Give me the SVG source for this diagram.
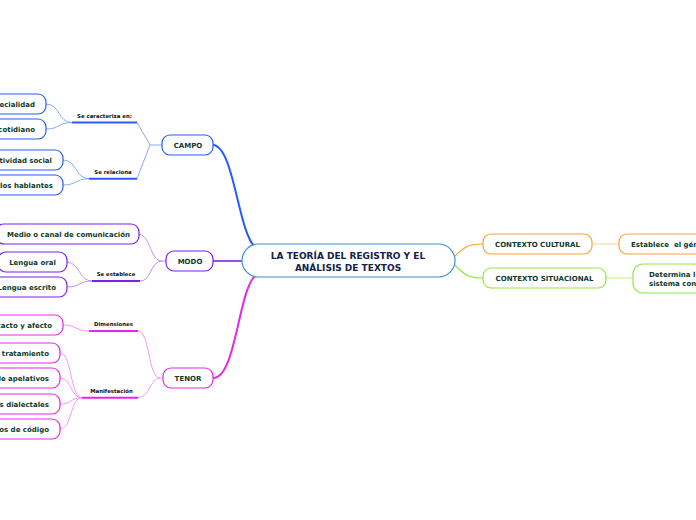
<svg xmlns="http://www.w3.org/2000/svg" width="696" height="520" viewBox="0 0 696 520">
<style>
.t{font-family:"DejaVu Sans",Verdana,sans-serif;font-weight:bold;font-size:7px;fill:#0d3a2c}
.c{font-family:"DejaVu Sans",Verdana,sans-serif;font-weight:bold;font-size:9px;fill:#14224a;text-anchor:middle}
.l{font-family:"DejaVu Sans",Verdana,sans-serif;font-weight:bold;font-size:5.4px;fill:#111}
.n{fill:#fff;stroke-width:1.2}
.b{stroke:#2a5cf5}.p{stroke:#7b22e6}.m{stroke:#e02ae8}.o{stroke:#f5a33a}.g{stroke:#93e840}
.cn path{fill:none}
</style>
<rect width="696" height="520" fill="#fff"/>
<g id="connectors" class="cn">
<path d="M213,145 C234,146 238,232 255,247" stroke="#2a5cf5" stroke-width="2"/>
<path d="M213,261 L242,261" stroke="#7b22e6" stroke-width="1.6"/>
<path d="M213,378 C236,378 238,292 255,276" stroke="#e02ae8" stroke-width="2"/>
<path d="M455,256 C465,246 470,244 483,244" stroke="#f5a33a" stroke-width="1.2"/>
<path d="M455,265 C465,276 470,278 483,278" stroke="#93e840" stroke-width="1.2"/>
<path d="M592,244 L619,244" stroke="#fbcf90" stroke-width="1"/>
<path d="M606,278 L633,278" stroke="#c6f29a" stroke-width="1.2"/>
<g stroke="#8aaaff" stroke-width="1">
<path d="M162,145 L150,145 L137,122.5 M150,145 L137,178.7"/>
<path d="M46,104 C60,104 58,122.5 72,122.5 M46,129 C60,129 58,122.5 72,122.5"/>
<path d="M63,160 C77,160 75,178.7 89,178.7 M63,185 C77,185 75,178.7 89,178.7"/>
</g>
<g stroke="#2a5cf5" stroke-width="2"><path d="M72,122.5 L137,122.5 M89,178.7 L137,178.7"/></g>
<g stroke="#b894f5" stroke-width="1">
<path d="M166,261 L162,261 M139,234 C151,236 150,261 162,261 M140,281 C152,281 150,261 162,261"/>
<path d="M67,262 C80,263 79,281 92,281 M67,287 C80,287 79,281 92,281"/>
</g>
<g stroke="#7b22e6" stroke-width="2"><path d="M92,281 L140,281"/></g>
<g stroke="#f59af5" stroke-width="1">
<path d="M163,378 L160,378 M138,331 C150,331 148,378 160,378 M138,397.7 C150,397.7 150,378 160,378"/>
<path d="M63,325 C76,325 76,331 89,331"/>
<path d="M60,353 C72,353 70,397.7 82,397.7 M60,378 C72,378 70,397.7 82,397.7 M60,404 C72,404 70,397.7 82,397.7 M60,429 C72,429 70,397.7 82,397.7"/>
</g>
<g stroke="#e02ae8" stroke-width="2"><path d="M89,331 L138,331 M82,397.7 L138,397.7"/></g>
</g>
<g id="central"><rect x="242" y="244" width="213" height="33" rx="16.5" class="n" stroke="#3c8fd6"/><text class="c" x="348" y="259">LA TEORÍA DEL REGISTRO Y EL</text><text class="c" x="348" y="271">ANÁLISIS DE TEXTOS</text></g>
<g id="campo"><rect x="162" y="135" width="51" height="20" rx="8" class="n b"/><text class="t" x="188" y="147.5" text-anchor="middle">CAMPO</text></g>
<g id="modo"><rect x="166" y="251" width="47" height="20" rx="8" class="n p"/><text class="t" x="190" y="263.5" text-anchor="middle">MODO</text></g>
<g id="tenor"><rect x="163" y="368" width="50" height="20" rx="8" class="n m"/><text class="t" x="188" y="380.5" text-anchor="middle">TENOR</text></g>
<g id="lbl-caracteriza"><text class="l" x="104.5" y="118" text-anchor="middle">Se caracteriza en:</text></g>
<g id="lbl-relaciona"><text class="l" x="113" y="174" text-anchor="middle">Se relaciona</text></g>
<g id="lbl-establece"><text class="l" x="116" y="276" text-anchor="middle">Se establece</text></g>
<g id="lbl-dimensiones"><text class="l" x="113.5" y="326" text-anchor="middle">Dimensiones</text></g>
<g id="lbl-manifestacion"><text class="l" x="111.5" y="393" text-anchor="middle">Manifestación</text></g>
<g id="especialidad"><rect x="-40" y="94" width="86" height="20" rx="8" class="n b"/><text class="t" x="35" y="106.5" text-anchor="end">ecialidad</text></g>
<g id="cotidiano"><rect x="-40" y="119" width="86" height="20" rx="8" class="n b"/><text class="t" x="35" y="131.5" text-anchor="end">cotidiano</text></g>
<g id="actividad"><rect x="-40" y="150" width="103" height="20" rx="8" class="n b"/><text class="t" x="52" y="162.5" text-anchor="end">tividad social</text></g>
<g id="hablantes"><rect x="-40" y="175" width="103" height="20" rx="8" class="n b"/><text class="t" x="53" y="187.5" text-anchor="end">los hablantes</text></g>
<g id="medio"><rect x="-4" y="224" width="143" height="20" rx="8" class="n p"/><text class="t" x="7" y="236.5">Medio o canal de comunicación</text></g>
<g id="oral"><rect x="-2" y="252" width="69" height="20" rx="8" class="n p"/><text class="t" x="32.5" y="264.5" text-anchor="middle">Lengua oral</text></g>
<g id="escrito"><rect x="-20" y="277" width="87" height="20" rx="8" class="n p"/><text class="t" x="56" y="289.5" text-anchor="end">Lengua escrito</text></g>
<g id="contacto"><rect x="-40" y="315" width="103" height="20" rx="8" class="n m"/><text class="t" x="52" y="327.5" text-anchor="end">tacto y afecto</text></g>
<g id="tratamiento"><rect x="-40" y="343" width="100" height="20" rx="8" class="n m"/><text class="t" x="49" y="355.5" text-anchor="end">tratamiento</text></g>
<g id="apelativos"><rect x="-40" y="368" width="100" height="20" rx="8" class="n m"/><text class="t" x="49" y="380.5" text-anchor="end">de apelativos</text></g>
<g id="dialectales"><rect x="-40" y="394" width="100" height="20" rx="8" class="n m"/><text class="t" x="49" y="406.5" text-anchor="end">s dialectales</text></g>
<g id="codigo"><rect x="-40" y="419" width="100" height="20" rx="8" class="n m"/><text class="t" x="49" y="431.5" text-anchor="end">os de código</text></g>
<g id="cultural"><rect x="483" y="234" width="109" height="20" rx="8" class="n o"/><text class="t" x="537.5" y="246.5" text-anchor="middle">CONTEXTO CULTURAL</text></g>
<g id="situacional"><rect x="483" y="268" width="123" height="20" rx="8" class="n g"/><text class="t" x="544.5" y="280.5" text-anchor="middle">CONTEXTO SITUACIONAL</text></g>
<g id="establece"><rect x="619" y="234" width="110" height="20" rx="8" class="n o"/><text class="t" x="631" y="246.5" style="white-space:pre">Establece  el gén</text></g>
<g id="determina"><rect x="633" y="264" width="100" height="29" rx="10" class="n g"/><text class="t" x="649" y="276.5">Determina l</text><text class="t" x="649" y="286">sistema con</text></g>
</svg>
